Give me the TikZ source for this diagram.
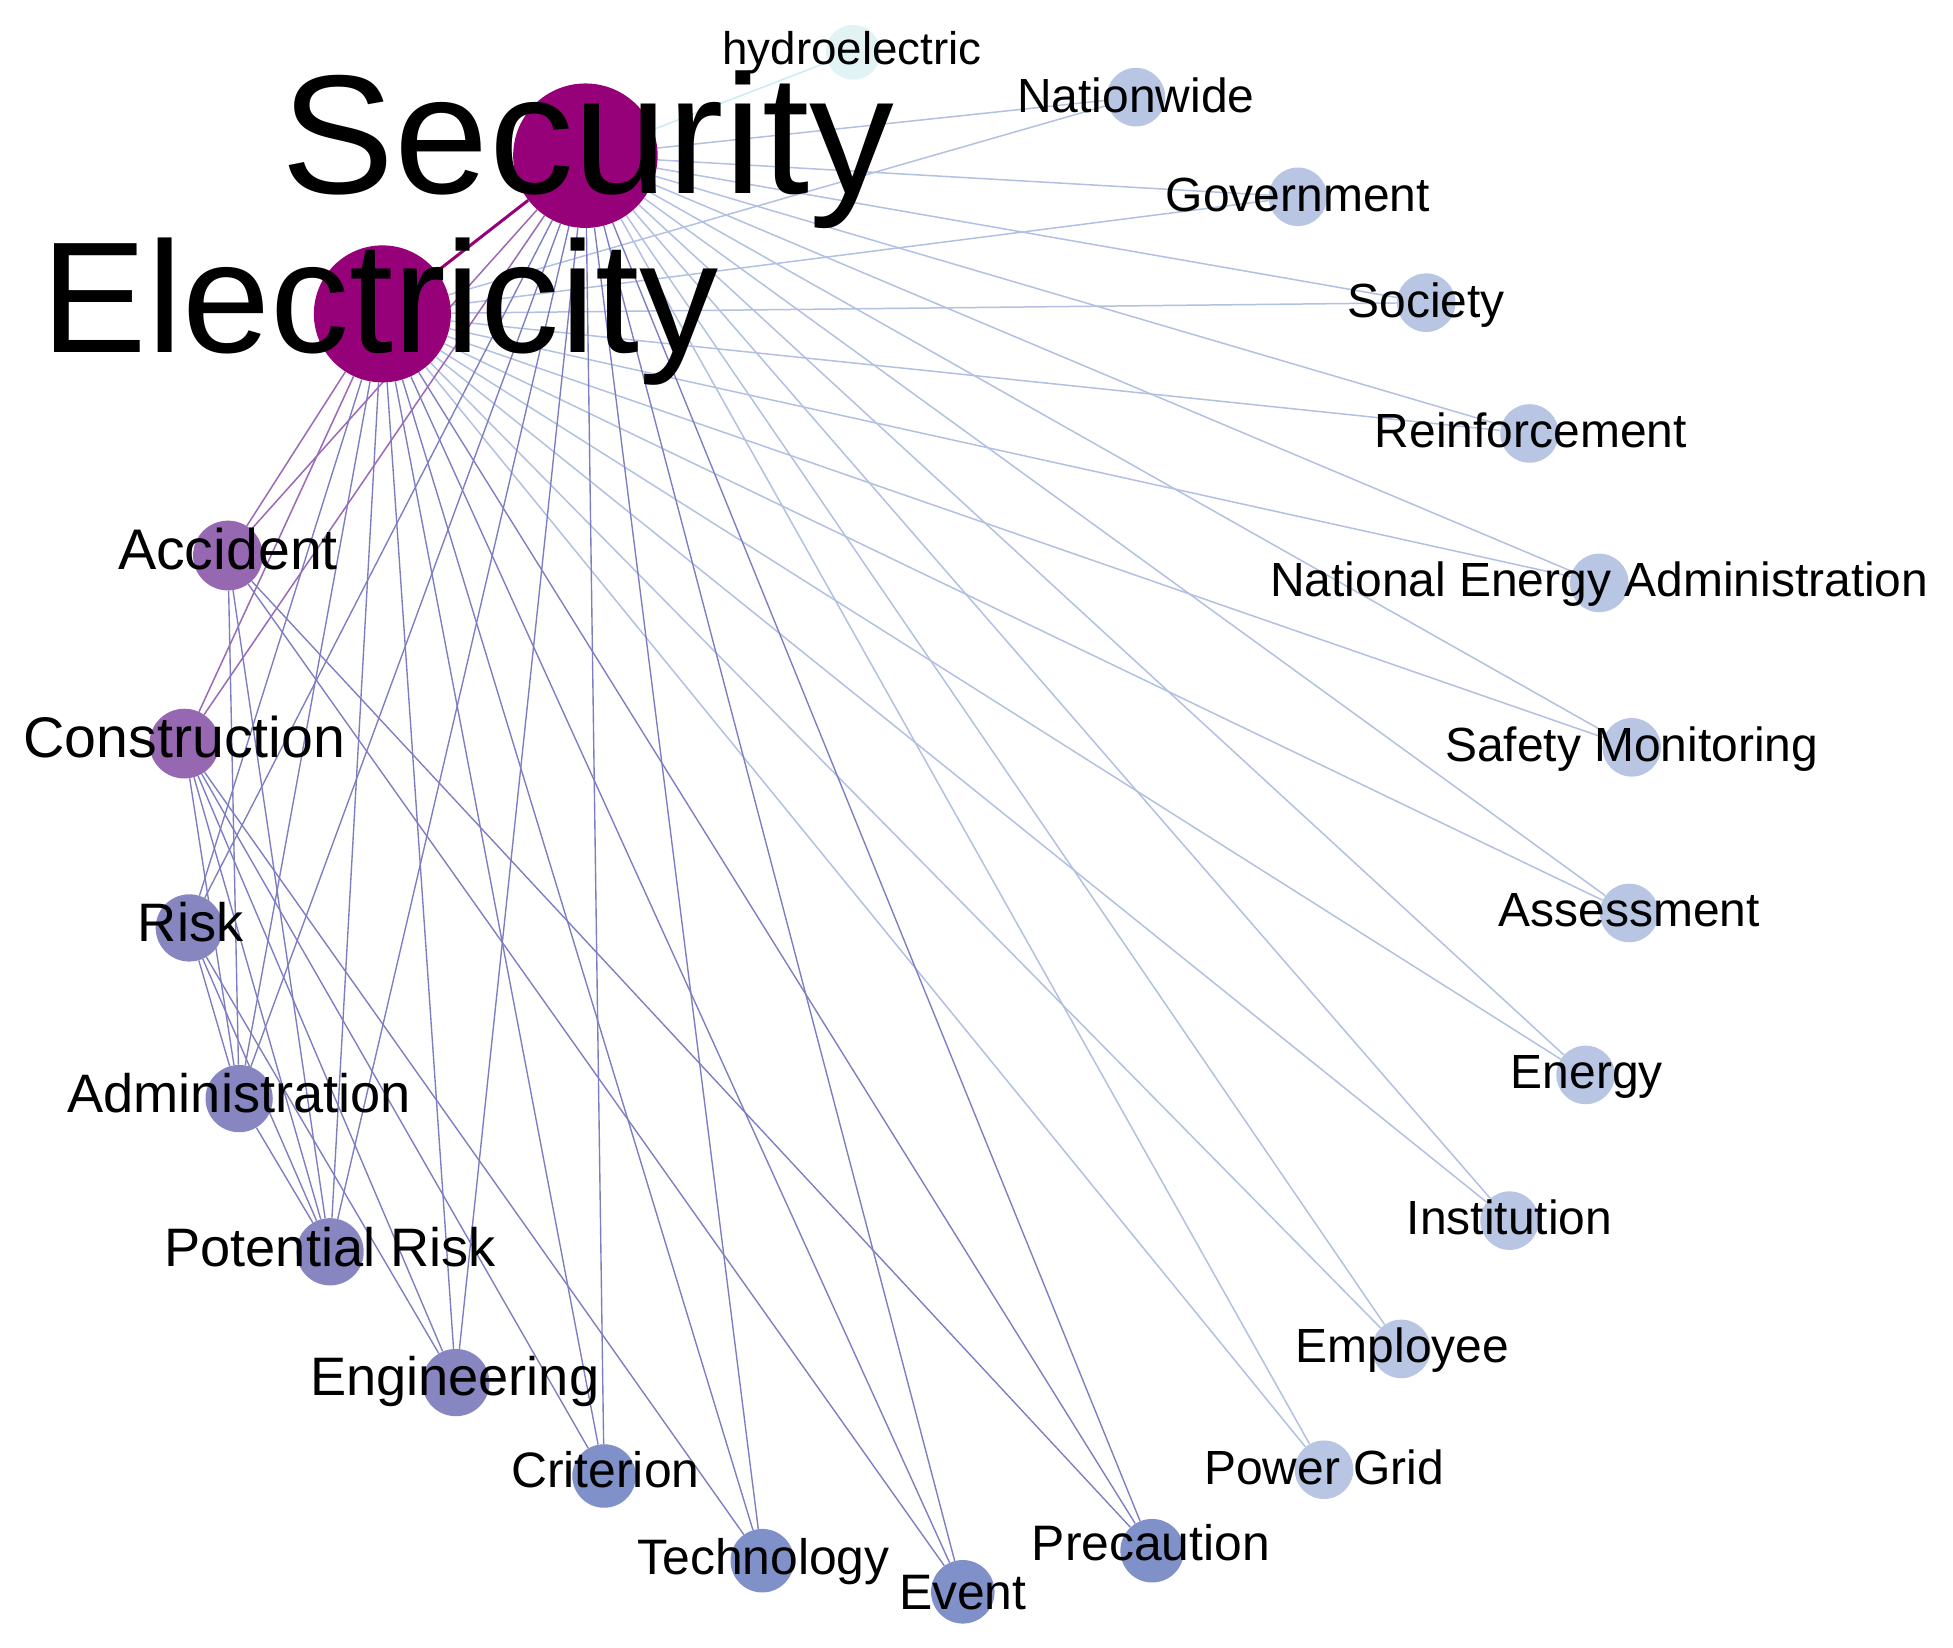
\documentclass[tikz,border=0pt]{standalone}
\usepackage{fontspec}
\setmainfont{Liberation Sans}
\pgfdeclarelayer{edges}
\pgfdeclarelayer{bg}
\pgfsetlayers{bg,edges,main}
\definecolor{hubc}{RGB}{150,0,120}
\definecolor{cpurp}{RGB}{150,104,178}
\definecolor{cviol}{RGB}{136,134,192}
\definecolor{cblue}{RGB}{128,144,200}
\definecolor{clight}{RGB}{184,198,227}
\definecolor{chydro}{RGB}{226,243,246}
\definecolor{epurp}{RGB}{155,105,182}
\definecolor{eviol}{RGB}{125,125,195}
\definecolor{elight}{RGB}{178,193,226}
\definecolor{ehydro}{RGB}{205,236,242}
\tikzset{
  vtx/.style={circle, inner sep=0pt, draw=none},
  lab/.style={inner sep=0pt, anchor=base, text=black},
  elt/.style={draw=elight, line width=1.2pt},
  evi/.style={draw=eviol, line width=1.1pt},
  epu/.style={draw=epurp, line width=1.2pt},
}
\newcommand{\fs}[1]{\fontsize{#1}{#1}\selectfont}
\begin{document}
\begin{tikzpicture}[x=1pt,y=-1pt]
\begin{pgfonlayer}{bg}
\path[fill=white] (0,0) rectangle (1568,1323);
\end{pgfonlayer}
\path[use as bounding box] (0,0) rectangle (1568,1323);
% vertices
\node[vtx, fill=hubc, minimum size=116pt] (sec) at (470,125) {};
\node[vtx, fill=hubc, minimum size=110pt] (ele) at (307,252) {};
\node[vtx, fill=chydro, minimum size=44pt] (hyd) at (685,42) {};
\node[vtx, fill=clight, minimum size=47pt] (nat) at (912,78) {};
\node[vtx, fill=clight, minimum size=47pt] (gov) at (1042,158) {};
\node[vtx, fill=clight, minimum size=47pt] (soc) at (1145,243) {};
\node[vtx, fill=clight, minimum size=47pt] (rei) at (1228,348) {};
\node[vtx, fill=clight, minimum size=47pt] (nea) at (1284,468) {};
\node[vtx, fill=clight, minimum size=47pt] (saf) at (1310,600) {};
\node[vtx, fill=clight, minimum size=47pt] (ass) at (1308,733) {};
\node[vtx, fill=clight, minimum size=47pt] (ene) at (1273,863) {};
\node[vtx, fill=clight, minimum size=47pt] (ins) at (1212,980) {};
\node[vtx, fill=clight, minimum size=47pt] (emp) at (1125,1083) {};
\node[vtx, fill=clight, minimum size=47pt] (pow) at (1063,1180) {};
\node[vtx, fill=cblue, minimum size=51pt] (pre) at (925,1245) {};
\node[vtx, fill=cblue, minimum size=51pt] (eve) at (773,1278) {};
\node[vtx, fill=cblue, minimum size=51pt] (tec) at (612,1253) {};
\node[vtx, fill=cblue, minimum size=51pt] (cri) at (485,1185) {};
\node[vtx, fill=cviol, minimum size=54pt] (eng) at (366,1110) {};
\node[vtx, fill=cviol, minimum size=54pt] (pot) at (265,1005) {};
\node[vtx, fill=cviol, minimum size=54pt] (adm) at (192,882) {};
\node[vtx, fill=cviol, minimum size=54pt] (ris) at (152,745) {};
\node[vtx, fill=cpurp, minimum size=56pt] (con) at (148,597) {};
\node[vtx, fill=cpurp, minimum size=56pt] (acc) at (183,446) {};
% edges
\begin{pgfonlayer}{edges}
\draw[draw=hubc, line width=2.4pt] (sec) -- (ele);
\draw[draw=ehydro, line width=1.2pt] (sec) -- (hyd);
\foreach \n in {nat,gov,soc,rei,nea,saf,ass,ene,ins,emp,pow} {
  \draw[elt] (sec) -- (\n);
  \draw[elt] (ele) -- (\n);
}
\foreach \n in {pre,eve,tec,cri,eng,pot,adm,ris} {
  \draw[evi] (sec) -- (\n);
  \draw[evi] (ele) -- (\n);
}
\foreach \n in {con,acc} {
  \draw[epu] (sec) -- (\n);
  \draw[epu] (ele) -- (\n);
}
\draw[evi] (acc) -- (adm);
\draw[evi] (acc) -- (pot);
\draw[evi] (acc) -- (pre);
\draw[evi] (acc) -- (eve);
\draw[evi] (con) -- (adm);
\draw[evi] (con) -- (pot);
\draw[evi] (con) -- (eng);
\draw[evi] (con) -- (cri);
\draw[evi] (con) -- (tec);
\draw[evi] (ris) -- (adm);
\draw[evi] (ris) -- (pot);
\draw[evi] (ris) -- (eng);
\draw[evi] (adm) -- (pot);
\end{pgfonlayer}
% labels
\node[lab, font=\fs{136}] (secL) at (472,155) {Security};
\node[lab, font=\fs{127}] (eleL) at (305,283) {Electricity};
\node[lab, font=\fs{36.7}] (hydL) at (684,52) {hydroelectric};
\node[lab, font=\fs{38.5}] (natL) at (912,90) {Nationwide};
\node[lab, font=\fs{38.5}] (govL) at (1042,170) {Government};
\node[lab, font=\fs{38.5}] (socL) at (1145,255) {Society};
\node[lab, font=\fs{38.5}] (reiL) at (1229,359) {Reinforcement};
\node[lab, font=\fs{38.5}] (neaL) at (1284,479) {National Energy Administration};
\node[lab, font=\fs{38.5}] (safL) at (1310,611) {Safety Monitoring};
\node[lab, font=\fs{38.5}] (assL) at (1308,744) {Assessment};
\node[lab, font=\fs{38.5}] (eneL) at (1274,874) {Energy};
\node[lab, font=\fs{38.5}] (insL) at (1212,991) {Institution};
\node[lab, font=\fs{38.5}] (empL) at (1126,1094) {Employee};
\node[lab, font=\fs{38.5}] (powL) at (1063,1192) {Power Grid};
\node[lab, font=\fs{40}] (preL) at (924,1253) {Precaution};
\node[lab, font=\fs{40}] (eveL) at (773,1292) {Event};
\node[lab, font=\fs{40}] (tecL) at (613,1264) {Technology};
\node[lab, font=\fs{40}] (criL) at (486,1194) {Criterion};
\node[lab, font=\fs{43.5}] (engL) at (365,1120) {Engineering};
\node[lab, font=\fs{43.5}] (potL) at (265,1017) {Potential Risk};
\node[lab, font=\fs{43.5}] (admL) at (192,893) {Administration};
\node[lab, font=\fs{43.5}] (risL) at (153,756) {Risk};
\node[lab, font=\fs{46}] (conL) at (148,608) {Construction};
\node[lab, font=\fs{46}] (accL) at (183,457) {Accident};
\end{tikzpicture}
\end{document}
